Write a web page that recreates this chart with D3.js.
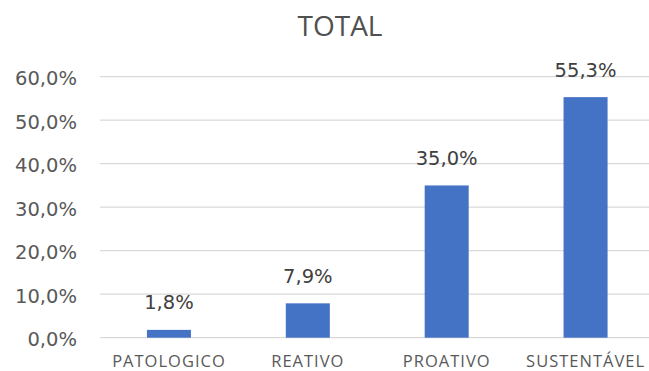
<!DOCTYPE html>
<html>
<head>
<meta charset="utf-8">
<script src="https://cdn.jsdelivr.net/npm/d3@7"></script>
<style>
  html, body { margin: 0; padding: 0; background: #fff; }
  svg { display: block; }
</style>
</head>
<body>
<svg id="chart" width="649" height="371"></svg>
<script>
// Share of each profile in the total
const categories = ["PATOLOGICO", "REATIVO", "PROATIVO", "SUSTENTÁVEL"];
const values = [1.8, 7.9, 35.0, 55.3];
const yTicks = [0, 10, 20, 30, 40, 50, 60];
const title = "TOTAL";

const svg = d3.select("#chart");
const fmt = v => v.toFixed(1).replace(".", ",") + "%";

const x = d3.scaleBand()
  .domain(categories)
  .range([99.5, 655])
  .paddingInner(0.683)
  .paddingOuter(0.683 / 2);

const y = d3.scaleLinear().domain([0, 60]).range([337.7, 76.7]);

// Horizontal gridlines
svg.append("g").selectAll("line")
  .data(yTicks)
  .join("line")
  .attr("x1", 100).attr("x2", 649)
  .attr("y1", d => y(d)).attr("y2", d => y(d))
  .attr("stroke", "#d9d9d9")
  .attr("stroke-width", 1.3);

// Y axis labels
const yAxis = d3.axisLeft(y).tickValues(yTicks).tickFormat(fmt).tickSize(0).tickPadding(0);
const gy = svg.append("g").attr("transform", "translate(77,0)").call(yAxis);
gy.select(".domain").remove();
gy.selectAll("text")
  .attr("font-family", "DejaVu Sans, sans-serif")
  .attr("font-size", 19.5)
  .attr("fill", "#595959")
  .attr("dy", "0.42em");

// Bars
svg.append("g").selectAll("rect")
  .data(values)
  .join("rect")
  .attr("x", (d, i) => x(categories[i]))
  .attr("width", x.bandwidth())
  .attr("y", d => y(d))
  .attr("height", d => y(0) - y(d))
  .attr("fill", "#4472C4");

// Value labels
svg.append("g").selectAll("text")
  .data(values)
  .join("text")
  .attr("x", (d, i) => x(categories[i]) + x.bandwidth() / 2)
  .attr("y", d => y(d) - 20.5)
  .attr("text-anchor", "middle")
  .attr("font-family", "DejaVu Sans, sans-serif")
  .attr("font-size", 19.5)
  .attr("fill", "#404040")
  .text(fmt);

// Category axis labels
const xAxis = d3.axisBottom(x).tickSize(0).tickPadding(0);
const gx = svg.append("g").attr("transform", "translate(0,366.5)").call(xAxis);
gx.select(".domain").remove();
gx.selectAll("text")
  .attr("dy", 0)
  .attr("font-family", "Open Sans, sans-serif")
  .attr("font-size", 16.5)
  .attr("letter-spacing", 1)
  .attr("fill", "#595959");

// Title
svg.append("text")
  .attr("x", 340)
  .attr("y", 36)
  .attr("text-anchor", "middle")
  .attr("font-family", "Open Sans, sans-serif")
  .attr("font-size", 28)
  .attr("fill", "#505050")
  .text(title);
</script>
</body>
</html>
